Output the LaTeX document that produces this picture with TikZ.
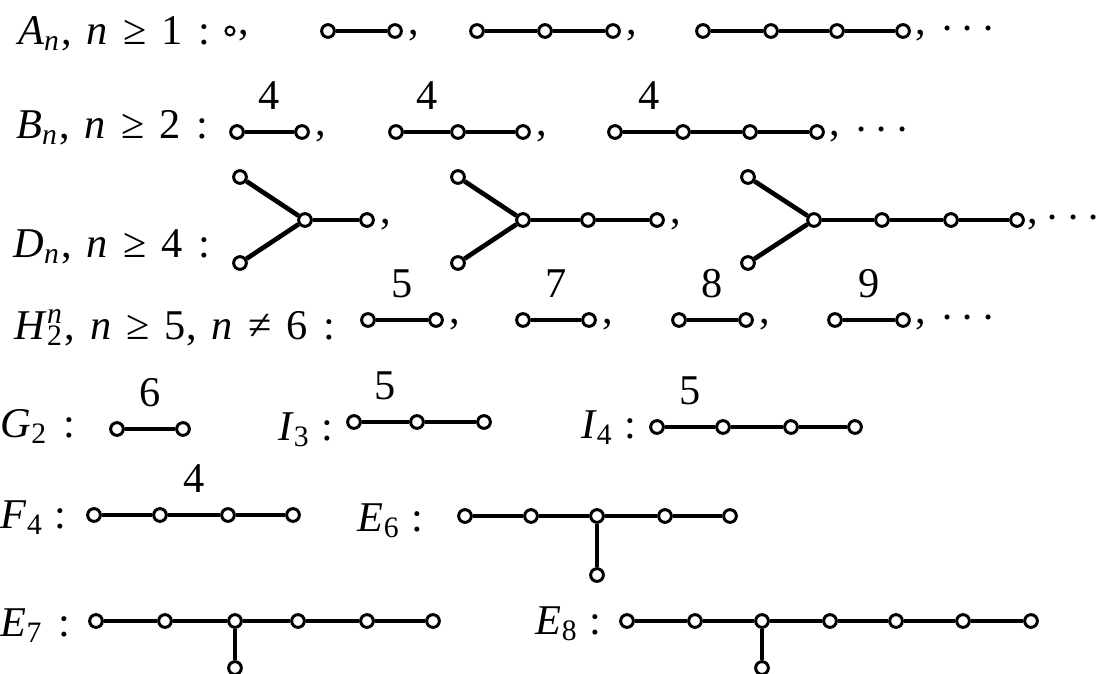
\documentclass[tikz,border=0pt]{standalone}
\usepackage{fontspec}
\setmainfont{Liberation Serif}
\usetikzlibrary{positioning}

\newcommand{\gap}{\hspace{0.36em}}
\newcommand{\idx}[1]{\textsubscript{\textit{#1}}}
\newcommand{\supsub}[2]{\textsubscript{#1}\llap{\textsuperscript{\textit{#2}}}}
\newcommand{\etc}[1][3.2pt]{,\hspace{#1}\raisebox{-2pt}{·\hspace{1.6pt}·\hspace{1.6pt}·}}

\tikzset{
  vtx/.style={circle, draw, fill=white, line width=0.7pt, inner sep=0pt, minimum size=3pt},
  bond/.style={line width=0.9pt},
  spoke/.style={line width=1.1pt},
  lbl/.style={anchor=base east, inner sep=0pt},
  lblw/.style={anchor=base west, inner sep=0pt},
  wt/.style={midway, above=4.8pt, inner sep=0pt},
  sep/.style={anchor=base west, inner sep=0pt}
}

\begin{document}
\begin{tikzpicture}[x=0.236pt, y=-0.236pt]
  \useasboundingbox (0,0) rectangle (1098,673);

  % A_n
  \node[lbl] (la) at (211,44) {\textit{A}\idx{n},\gap\textit{n}\gap≥\gap1\gap:};
  \node[vtx, minimum size=2.1pt, line width=0.5pt] (a11) at (230,31) {};
  \node[sep] (ca1) at (238,34) {,};
  \node[vtx] (a21) at (328,31) {}; \node[vtx] (a22) at (395,31) {};
  \node[sep] (ca2) at (408,34) {,};
  \node[vtx] (a31) at (477,31) {}; \node[vtx] (a32) at (545,31) {}; \node[vtx] (a33) at (613,31) {};
  \node[sep] (ca3) at (626,34) {,};
  \node[vtx] (a41) at (703,31) {}; \node[vtx] (a42) at (771,31) {};
  \node[vtx] (a43) at (837,31) {}; \node[vtx] (a44) at (903,31) {};
  \node[sep] (ca4) at (915,34) {\etc};
  \draw[bond] (a21) -- (a22);
  \draw[bond] (a31) -- (a32) -- (a33);
  \draw[bond] (a41) -- (a42) -- (a43) -- (a44);

  % B_n
  \node[lbl] (lb) at (209,138) {\textit{B}\idx{n},\gap\textit{n}\gap≥\gap2\gap:};
  \node[vtx] (b11) at (237,132) {}; \node[vtx] (b12) at (302,132) {};
  \node[sep] (cb1) at (315,135) {,};
  \node[vtx] (b21) at (396,132) {}; \node[vtx] (b22) at (458,132) {}; \node[vtx] (b23) at (523,132) {};
  \node[sep] (cb2) at (536,135) {,};
  \node[vtx] (b31) at (615,132) {}; \node[vtx] (b32) at (683,132) {};
  \node[vtx] (b33) at (750,132) {}; \node[vtx] (b34) at (817,132) {};
  \node[sep] (cb3) at (829,135) {\etc};
  \draw[bond] (b11) -- node[wt] {4} (b12);
  \draw[bond] (b21) -- node[wt] {4} (b22) -- (b23);
  \draw[bond] (b31) -- node[wt] {4} (b32) -- (b33) -- (b34);

  % D_n
  \node[lbl] (ld) at (211,257) {\textit{D}\idx{n},\gap\textit{n}\gap≥\gap4\gap:};
  \node[vtx] (d1u) at (240,177) {}; \node[vtx] (d1d) at (240,263) {};
  \node[vtx] (d1b) at (305,220) {}; \node[vtx] (d11) at (367,220) {};
  \node[sep] (cd1) at (380,223) {,};
  \node[vtx] (d2u) at (458,177) {}; \node[vtx] (d2d) at (458,263) {};
  \node[vtx] (d2b) at (523,220) {}; \node[vtx] (d21) at (588,220) {}; \node[vtx] (d22) at (657,220) {};
  \node[sep] (cd2) at (670,223) {,};
  \node[vtx] (d3u) at (748,177) {}; \node[vtx] (d3d) at (748,263) {};
  \node[vtx] (d3b) at (814,220) {}; \node[vtx] (d31) at (882,220) {};
  \node[vtx] (d32) at (951,220) {}; \node[vtx] (d33) at (1017,220) {};
  \node[sep] (cd3) at (1027,223) {\etc[1.6pt]};
  \draw[spoke] (d1u) -- (d1b) -- (d1d); \draw[bond] (d1b) -- (d11);
  \draw[spoke] (d2u) -- (d2b) -- (d2d); \draw[bond] (d2b) -- (d21) -- (d22);
  \draw[spoke] (d3u) -- (d3b) -- (d3d); \draw[bond] (d3b) -- (d31) -- (d32) -- (d33);

  % H_2^n
  \node[lbl] (lh) at (336,339) {\textit{H}\supsub{2}{n},\gap\textit{n}\gap≥\gap5,\gap\textit{n}\gap≠\gap6\gap:};
  \node[vtx] (h11) at (368,320) {}; \node[vtx] (h12) at (436,320) {};
  \node[sep] (ch1) at (449,323) {,};
  \node[vtx] (h21) at (523,320) {}; \node[vtx] (h22) at (589,320) {};
  \node[sep] (ch2) at (602,323) {,};
  \node[vtx] (h31) at (679,320) {}; \node[vtx] (h32) at (746,320) {};
  \node[sep] (ch3) at (759,323) {,};
  \node[vtx] (h41) at (835,320) {}; \node[vtx] (h42) at (903,320) {};
  \node[sep] (ch4) at (915,323) {\etc};
  \draw[bond] (h11) -- node[wt] {5} (h12);
  \draw[bond] (h21) -- node[wt] {7} (h22);
  \draw[bond] (h31) -- node[wt] {8} (h32);
  \draw[bond] (h41) -- node[wt] {9} (h42);

  % G_2, I_3, I_4
  \node[lblw] (lg) at (0,437) {\textit{G}\textsubscript{2}\gap:};
  \node[vtx] (g1) at (117,429) {}; \node[vtx] (g2) at (183,429) {};
  \draw[bond] (g1) -- node[wt] {6} (g2);
  \node[lbl] (li3) at (334,440) {\textit{I}\textsubscript{3} :};
  \node[vtx] (i31) at (354,422) {}; \node[vtx] (i32) at (417,422) {}; \node[vtx] (i33) at (484,422) {};
  \draw[bond] (i31) -- node[wt] {5} (i32) -- (i33);
  \node[lbl] (li4) at (637,438) {\textit{I}\textsubscript{4} :};
  \node[vtx] (i41) at (657,427) {}; \node[vtx] (i42) at (723,427) {};
  \node[vtx] (i43) at (791,427) {}; \node[vtx] (i44) at (855,427) {};
  \draw[bond] (i41) -- node[wt] {5} (i42) -- (i43) -- (i44);

  % F_4, E_6
  \node[lblw] (lf) at (0,528) {\textit{F}\textsubscript{4} :};
  \node[vtx] (f1) at (94,515) {}; \node[vtx] (f2) at (160,515) {};
  \node[vtx] (f3) at (228,515) {}; \node[vtx] (f4) at (293,515) {};
  \draw[bond] (f1) -- (f2) -- node[wt] {4} (f3) -- (f4);
  \node[lbl] (le6) at (424,531) {\textit{E}\textsubscript{6} :};
  \node[vtx] (e61) at (465,516) {}; \node[vtx] (e62) at (531,516) {}; \node[vtx] (e63) at (597,516) {};
  \node[vtx] (e64) at (665,516) {}; \node[vtx] (e65) at (730,516) {};
  \node[vtx] (e6b) at (597,575) {};
  \draw[bond] (e61) -- (e62) -- (e63) -- (e64) -- (e65);
  \draw[spoke] (e63) -- (e6b);

  % E_7, E_8
  \node[lblw] (le7) at (0,636) {\textit{E}\textsubscript{7}\gap:};
  \node[vtx] (e71) at (96,621) {}; \node[vtx] (e72) at (165,621) {}; \node[vtx] (e73) at (235,621) {};
  \node[vtx] (e74) at (298,621) {}; \node[vtx] (e75) at (367,621) {}; \node[vtx] (e76) at (433,621) {};
  \node[vtx] (e7b) at (235,668) {};
  \draw[bond] (e71) -- (e72) -- (e73) -- (e74) -- (e75) -- (e76);
  \draw[spoke] (e73) -- (e7b);
  \node[lbl] (le8) at (602,634) {\textit{E}\textsubscript{8} :};
  \node[vtx] (e81) at (627,621) {}; \node[vtx] (e82) at (695,621) {}; \node[vtx] (e83) at (762,621) {};
  \node[vtx] (e84) at (830,621) {}; \node[vtx] (e85) at (896,621) {}; \node[vtx] (e86) at (963,621) {};
  \node[vtx] (e87) at (1031,621) {};
  \node[vtx] (e8b) at (762,668) {};
  \draw[bond] (e81) -- (e82) -- (e83) -- (e84) -- (e85) -- (e86) -- (e87);
  \draw[spoke] (e83) -- (e8b);
\end{tikzpicture}
\end{document}
